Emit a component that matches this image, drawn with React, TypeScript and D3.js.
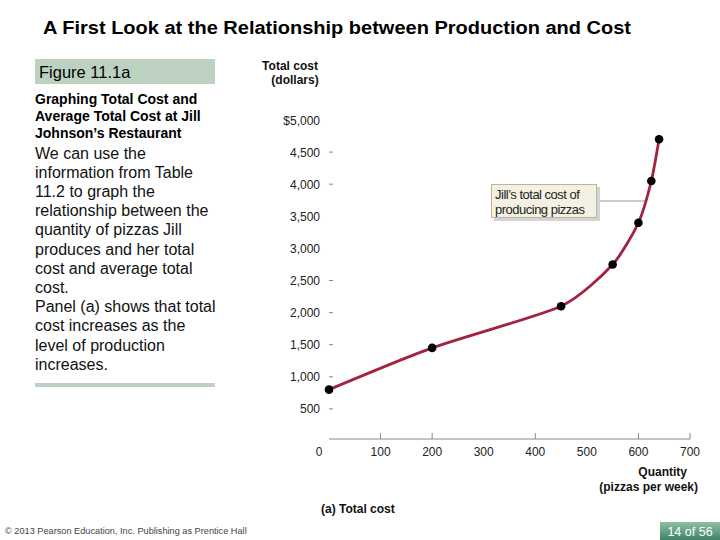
import React from "react";
import * as d3 from "d3";

const quantities = [0, 200, 450, 550, 600, 625, 640];
const totalCosts = [800, 1450, 2100, 2750, 3400, 4050, 4700];
const yTickValues = [500, 1000, 1500, 2000, 2500, 3000, 3500, 4000, 4500, 5000];
const yTickLabels = ["500", "1,000", "1,500", "2,000", "2,500", "3,000", "3,500", "4,000", "4,500", "$5,000"];
const yDashTicks = [500, 1000, 1500, 2000, 2500, 4000, 4500];
const xTickValues = [0, 100, 200, 300, 400, 500, 600, 700];
const xTickMarks = [100, 200, 400, 600, 700];
const bodyLines = [
  "We can use the",
  "information from Table",
  "11.2 to graph the",
  "relationship between the",
  "quantity of pizzas Jill",
  "produces and her total",
  "cost and average total",
  "cost.",
  "Panel (a) shows that total",
  "cost increases as the",
  "level of production",
  "increases.",
];
const subtitleLines = ["Graphing Total Cost and", "Average Total Cost at Jill", "Johnson\u2019s Restaurant"];

const FONT = "'Liberation Sans', Arial, Helvetica, sans-serif";

export default function App() {
  const x = d3.scaleLinear().domain([0, 700]).range([329, 690]);
  const y = d3.scaleLinear().domain([0, 5000]).range([441, 120]);
  const pts: [number, number][] = quantities.map((q, i) => [q, totalCosts[i]]);
  const line = d3
    .line<[number, number]>()
    .x((d) => x(d[0]))
    .y((d) => y(d[1]))
    .curve(d3.curveCardinal.tension(0.35));
  const axisY = 439;

  return (
    <svg
      width={720}
      height={540}
      style={{ position: "absolute", left: 0, top: 0, background: "#fff" }}
      fontFamily={FONT}
    >
      <defs>
        <linearGradient id="pg" x1="0" y1="0" x2="0" y2="1">
          <stop offset="0" stopColor="#8cc0a6" />
          <stop offset="1" stopColor="#3f8468" />
        </linearGradient>
      </defs>
      <rect x={0} y={0} width={720} height={540} fill="#fff" />
      {/* Title */}
      <text x={43} y={34} fontSize={17.5} fontWeight="bold" fill="#000" textLength={588} lengthAdjust="spacingAndGlyphs">
        A First Look at the Relationship between Production and Cost
      </text>

      {/* Left panel */}
      <rect x={35} y={59} width={180} height={25} fill="#bdd1c1" />
      <text x={39} y={77.5} fontSize={16.5} fill="#000">
        Figure 11.1a
      </text>
      {subtitleLines.map((s, i) => (
        <text key={s} x={35} y={104 + i * 17} fontSize={14} fontWeight="bold" fill="#000">
          {s}
        </text>
      ))}
      {bodyLines.map((s, i) => (
        <text key={i} x={35} y={158.5 + i * 19.2} fontSize={16} fill="#111">
          {s}
        </text>
      ))}
      <rect x={35} y={383} width={180} height={4} fill="#bdd1c1" />

      {/* Y axis title */}
      <text x={290} y={70} fontSize={12} fontWeight="bold" textAnchor="middle" fill="#111">
        Total cost
      </text>
      <text x={295} y={84} fontSize={12} fontWeight="bold" textAnchor="middle" fill="#111">
        (dollars)
      </text>

      {/* Y ticks */}
      {yTickValues.map((v, i) => (
        <text key={v} x={320} y={y(v) + 4.5} fontSize={12} textAnchor="end" fill="#222">
          {yTickLabels[i]}
        </text>
      ))}
      {yDashTicks.map((v) => (
        <line key={v} x1={329} x2={333} y1={y(v)} y2={y(v)} stroke="#888" strokeWidth={1} />
      ))}

      {/* X axis */}
      <line x1={329} x2={690} y1={axisY} y2={axisY} stroke="#888" strokeWidth={1} />
      {xTickMarks.map((v) => (
        <line key={v} x1={x(v)} x2={x(v)} y1={axisY} y2={axisY - 6} stroke="#888" strokeWidth={1} />
      ))}
      {xTickValues.map((v) => (
        <text key={v} x={v === 0 ? 319 : x(v)} y={456} fontSize={12} textAnchor="middle" fill="#222">
          {v}
        </text>
      ))}
      <text x={687} y={476} fontSize={12} fontWeight="bold" textAnchor="end" fill="#111">
        Quantity
      </text>
      <text x={698} y={491} fontSize={12} fontWeight="bold" textAnchor="end" fill="#111">
        (pizzas per week)
      </text>
      <text x={321} y={513} fontSize={12} fontWeight="bold" fill="#111">
        (a) Total cost
      </text>

      {/* Annotation */}
      <line x1={597} x2={646} y1={201} y2={201} stroke="#999" strokeWidth={1} />
      <rect x={494} y={187} width={106} height={34} fill="#d4d4d4" />
      <rect x={491.5} y={184.5} width={105} height={33} fill="#f4f1e2" stroke="#b9b5a3" strokeWidth={1} />
      <text x={495} y={198.5} fontSize={13} fill="#222" letterSpacing={-0.5}>
        Jill’s total cost of
      </text>
      <text x={495} y={214} fontSize={13} fill="#222" letterSpacing={-0.5}>
        producing pizzas
      </text>

      {/* Curve */}
      <path d={line(pts) ?? ""} fill="none" stroke="#a3223f" strokeWidth={2.8} />
      {pts.map((d, i) => (
        <circle key={i} cx={x(d[0])} cy={y(d[1])} r={4.3} fill="#000" />
      ))}

      {/* Footer */}
      <text x={5} y={534} fontSize={9.2} fill="#444">
        © 2013 Pearson Education, Inc. Publishing as Prentice Hall
      </text>
      <rect x={660} y={522} width={60} height={18} fill="url(#pg)" />
      <text x={690} y={536} fontSize={12.5} textAnchor="middle" fill="#fff">
        14 of 56
      </text>
    </svg>
  );
}
